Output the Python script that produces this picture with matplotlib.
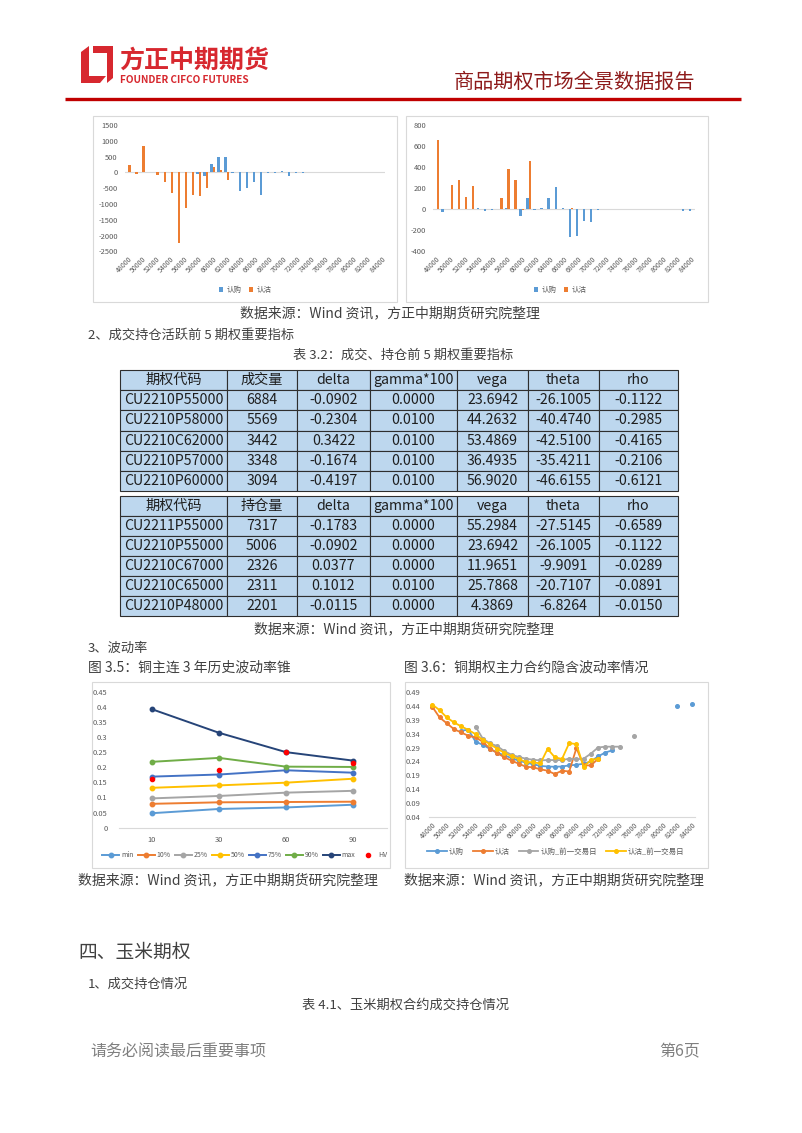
import numpy as np
import matplotlib.pyplot as plt
from matplotlib.patches import Rectangle, Polygon

plt.rcParams['font.family'] = ['Noto Sans CJK SC', 'DejaVu Sans']
plt.rcParams['axes.unicode_minus'] = False

# ---- data ----
strikes = [48000, 49000, 50000, 51000, 52000, 53000, 54000, 55000, 56000, 57000,
           58000, 59000, 60000, 61000, 62000, 63000, 64000, 65000, 66000, 67000,
           68000, 69000, 70000, 71000, 72000, 73000, 74000, 75000, 76000, 77000,
           78000, 79000, 80000, 81000, 82000, 83000, 84000]

# 成交量变化 (left bar chart)
vol_call = [0, 0, 0, 0, 0, 0, 0, 15, 0, 0,
            -60, -100, 280, 480, 480, -30, -580, -480, -310, -720,
            -30, -10, 30, -120, -10, -5, 0, 0, 0, 0,
            0, 0, 0, 0, 0, 0, 0]
vol_put = [240, -40, 850, 0, -80, -290, -640, -2250, -1120, -710,
           -750, -500, 180, 60, -250, 0, 0, 0, 0, 0,
           0, 0, 0, 0, 0, 0, 0, 0, 0, 0,
           0, 0, 0, 0, 0, 0, 0]

# 持仓量变化 (right bar chart)
oi_call = [0, -30, 0, 0, 0, 0, 10, -15, -5, 0,
           10, 0, -60, 105, -10, 10, 105, 210, 10, -260,
           -250, -110, -120, -5, 0, 0, 0, 0, 0, 0,
           0, 0, 0, 0, 0, -15, -15]
oi_put = [655, 0, 232, 280, 114, 225, 0, 0, 0, 108,
          381, 273, -10, 460, 0, 0, 0, 0, 0, 10,
          0, 0, 0, 0, 0, 0, 0, 0, 0, 0,
          0, 0, 0, 0, 0, 0, 0]

# 历史波动率锥
cone_windows = ['10', '30', '60', '90']
cone_min = [0.048, 0.062, 0.067, 0.076]
cone_p10 = [0.079, 0.084, 0.085, 0.086]
cone_p25 = [0.097, 0.105, 0.116, 0.122]
cone_p50 = [0.132, 0.140, 0.149, 0.162]
cone_p75 = [0.169, 0.176, 0.190, 0.182]
cone_p90 = [0.218, 0.231, 0.202, 0.201]
cone_max = [0.392, 0.314, 0.250, 0.222]
cone_hv = [0.160, 0.192, 0.250, 0.215]

# 隐含波动率
N = None
iv_call = [N, N, N, N, 0.350, 0.354, 0.311, 0.300, 0.285, 0.272,
           0.262, 0.252, 0.243, 0.236, 0.230, 0.224, 0.222, 0.221, 0.222, 0.226,
           0.228, 0.232, 0.240, 0.258, 0.272, 0.280, N, N, N, N,
           N, N, N, N, 0.440, N, 0.445]
iv_put = [0.436, 0.398, 0.377, 0.356, 0.344, 0.332, 0.326, 0.311, 0.286, 0.270,
          0.255, 0.243, 0.232, 0.221, 0.219, 0.212, 0.207, 0.195, 0.207, 0.204,
          0.288, 0.226, 0.226, 0.249, N, N, N, N, N, N,
          N, N, N, N, N, N, N]
iv_call_prev = [N, N, N, N, N, N, 0.365, 0.322, 0.305, 0.295,
                0.277, 0.264, 0.256, 0.250, 0.246, 0.244, 0.245, 0.245, 0.245, 0.250,
                0.248, 0.250, 0.268, 0.290, 0.293, 0.293, 0.293, N, 0.333, N,
                N, N, N, N, N, N, N]
iv_put_prev = [0.444, 0.424, 0.398, 0.380, 0.366, 0.353, 0.338, 0.317, 0.302, 0.286,
               0.271, 0.259, 0.249, 0.238, 0.237, 0.233, 0.285, 0.255, 0.249, 0.306,
               0.302, 0.221, 0.245, 0.250, N, N, N, N, N, N,
               N, N, N, N, N, N, N]

# tables
col_names_1 = ['期权代码', '成交量', 'delta', 'gamma*100', 'vega', 'theta', 'rho']
table_1 = [
    ['CU2210P55000', '6884', '-0.0902', '0.0000', '23.6942', '-26.1005', '-0.1122'],
    ['CU2210P58000', '5569', '-0.2304', '0.0100', '44.2632', '-40.4740', '-0.2985'],
    ['CU2210C62000', '3442', '0.3422', '0.0100', '53.4869', '-42.5100', '-0.4165'],
    ['CU2210P57000', '3348', '-0.1674', '0.0100', '36.4935', '-35.4211', '-0.2106'],
    ['CU2210P60000', '3094', '-0.4197', '0.0100', '56.9020', '-46.6155', '-0.6121'],
]
col_names_2 = ['期权代码', '持仓量', 'delta', 'gamma*100', 'vega', 'theta', 'rho']
table_2 = [
    ['CU2211P55000', '7317', '-0.1783', '0.0000', '55.2984', '-27.5145', '-0.6589'],
    ['CU2210P55000', '5006', '-0.0902', '0.0000', '23.6942', '-26.1005', '-0.1122'],
    ['CU2210C67000', '2326', '0.0377', '0.0000', '11.9651', '-9.9091', '-0.0289'],
    ['CU2210C65000', '2311', '0.1012', '0.0100', '25.7868', '-20.7107', '-0.0891'],
    ['CU2210P48000', '2201', '-0.0115', '0.0000', '4.3869', '-6.8264', '-0.0150'],
]

# ---- styles ----
BLUE = '#5B9BD5'
ORANGE = '#ED7D31'
GRAY = '#A5A5A5'
YELLOW = '#FFC000'
BLUE2 = '#4472C4'
GREEN = '#70AD47'
NAVY = '#264478'
TICK = '#595959'
TXT = '#404040'
W, H = 802, 1133

fig = plt.figure(figsize=(W / 100, H / 100), dpi=100)


def box(x0, y0, x1, y1):
    return [x0 / W, 1 - y1 / H, (x1 - x0) / W, (y1 - y0) / H]


def fig_xy(x, y):
    return (x / W, 1 - y / H)


page = fig.add_axes([0, 0, 1, 1])
page.set_xlim(0, W)
page.set_ylim(H, 0)
page.axis('off')

# header
red = '#D7282F'
page.add_patch(Polygon([(81, 52), (89, 46), (89, 76), (81, 83)], color=red, lw=0))
page.add_patch(Polygon([(81, 76), (106, 76), (100, 83), (81, 83)], color=red, lw=0))
page.add_patch(Polygon([(93, 46), (113, 46), (113, 78), (107, 83), (107, 53), (93, 53)], color=red, lw=0))
page.text(119, 61, '方正中期期货', fontsize=18, fontweight='bold', color=red, va='center', ha='left')
page.text(120, 80, 'FOUNDER CIFCO FUTURES', fontsize=7.2, fontweight='bold', color=red, va='center', ha='left')
page.text(695, 82, '商品期权市场全景数据报告', fontsize=14.5, color='#8E1B1B', va='center', ha='right')
page.plot([65, 741], [99, 99], color='#C00000', lw=2.4, solid_capstyle='butt')

# chart frames
for x0, y0, x1, y1 in [(93, 116, 397, 302), (406, 116, 708, 302), (92, 682, 390, 868), (405, 682, 708, 868)]:
    page.add_patch(Rectangle((x0, y0), x1 - x0, y1 - y0, fill=False, ec='#D9D9D9', lw=0.8))

src = '数据来源：Wind 资讯，方正中期期货研究院整理'
page.text(390, 313, src, fontsize=10, color=TXT, ha='center', va='center')
page.text(88, 335, '2、成交持仓活跃前 5 期权重要指标', fontsize=9.5, color=TXT, ha='left', va='center')
page.text(403, 355, '表 3.2：成交、持仓前 5 期权重要指标', fontsize=9.5, color=TXT, ha='center', va='center')
page.text(404, 629, src, fontsize=10, color=TXT, ha='center', va='center')
page.text(88, 648, '3、波动率', fontsize=9.5, color=TXT, ha='left', va='center')
page.text(88, 668, '图 3.5：铜主连 3 年历史波动率锥', fontsize=10, color=TXT, ha='left', va='center')
page.text(404, 668, '图 3.6：铜期权主力合约隐含波动率情况', fontsize=10, color=TXT, ha='left', va='center')
page.text(78, 880, src, fontsize=10, color=TXT, ha='left', va='center')
page.text(404, 880, src, fontsize=10, color=TXT, ha='left', va='center')
page.text(78, 952, '四、玉米期权', fontsize=13.5, color=TXT, ha='left', va='center')
page.text(88, 984, '1、成交持仓情况', fontsize=9.5, color=TXT, ha='left', va='center')
page.text(406, 1005, '表 4.1、玉米期权合约成交持仓情况', fontsize=9.5, color=TXT, ha='center', va='center')
page.text(90, 1052, '请务必阅读最后重要事项', fontsize=11.5, color='#7F7F7F', ha='left', va='center')
page.text(700, 1052, '第6页', fontsize=11.5, color='#7F7F7F', ha='right', va='center')


def style_axes(ax):
    for s in ax.spines.values():
        s.set_visible(False)
    ax.tick_params(length=0, labelsize=5.4, labelcolor=TICK, pad=3)


# ---- bar charts ----
def bar_chart(rect, call, put, ylim, yticks, leg_xy):
    ax = fig.add_axes(box(*rect))
    idx = np.arange(len(strikes))
    ax.bar(idx - 0.17, call, width=0.34, color=BLUE, label='认购', zorder=2)
    ax.bar(idx + 0.17, put, width=0.34, color=ORANGE, label='认沽', zorder=2)
    ax.axhline(0, color='#D9D9D9', lw=0.8, zorder=1)
    ax.set_xlim(-0.5, len(strikes) - 0.5)
    ax.set_ylim(*ylim)
    ax.set_yticks(yticks)
    ax.set_yticklabels([str(v) for v in yticks])
    ax.set_xticks(idx[::2])
    ax.set_xticklabels([str(s) for s in strikes[::2]], rotation=45, ha='right', va='top',
                       rotation_mode='anchor')
    style_axes(ax)
    ax.tick_params(axis='x', labelsize=5.0)
    ax.tick_params(axis='y', pad=5)
    ax.legend(loc='center', bbox_to_anchor=fig_xy(*leg_xy), bbox_transform=fig.transFigure,
              ncol=2, frameon=False, fontsize=5.4, handlelength=0.6, handleheight=0.6,
              handletextpad=0.4, columnspacing=1.0, labelcolor=TICK)
    return ax


bar_chart((124.8, 125, 385.2, 251.3), vol_call, vol_put, (-2500, 1500),
          [1500, 1000, 500, 0, -500, -1000, -1500, -2000, -2500], (245, 290))
bar_chart((433, 125, 695, 251.3), oi_call, oi_put, (-400, 800),
          [800, 600, 400, 200, 0, -200, -400], (560, 290))

# ---- volatility cone ----
ax3 = fig.add_axes(box(118.5, 691.7, 386.5, 827.7))
xc = np.arange(len(cone_windows))
for name, vals, c in [('min', cone_min, BLUE), ('10%', cone_p10, ORANGE), ('25%', cone_p25, GRAY),
                      ('50%', cone_p50, YELLOW), ('75%', cone_p75, BLUE2), ('90%', cone_p90, GREEN),
                      ('max', cone_max, NAVY)]:
    ax3.plot(xc, vals, color=c, lw=1.4, marker='o', ms=3.2, label=name)
ax3.plot(xc, cone_hv, ls='none', marker='o', ms=3.0, color='#FF0000', label='HV')
ax3.set_xlim(-0.5, len(cone_windows) - 0.5)
ax3.set_ylim(0, 0.45)
yt = np.round(np.arange(0, 0.451, 0.05), 2)
ax3.set_yticks(yt)
ax3.set_yticklabels([f'{v:g}' for v in yt])
ax3.set_xticks(xc)
ax3.set_xticklabels(cone_windows)
style_axes(ax3)
ax3.tick_params(axis='y', pad=8)
ax3.tick_params(axis='x', pad=6)
ax3.spines['bottom'].set_visible(True)
ax3.spines['bottom'].set_color('#D9D9D9')
ax3.spines['bottom'].set_linewidth(0.8)
ax3.legend(loc='center', bbox_to_anchor=fig_xy(245, 855), bbox_transform=fig.transFigure,
           ncol=8, frameon=False, fontsize=5.0, handlelength=2.4, handletextpad=0.3,
           columnspacing=0.6, labelcolor=TICK)

# ---- implied vol ----
ax4 = fig.add_axes(box(428.7, 691.7, 695.3, 817.3))
xi = np.arange(len(strikes))
for name, vals, c in [('认购', iv_call, BLUE), ('认沽', iv_put, ORANGE),
                      ('认购_前一交易日', iv_call_prev, GRAY), ('认沽_前一交易日', iv_put_prev, YELLOW)]:
    ax4.plot(xi, np.array(vals, dtype=float), color=c, lw=1.3, marker='o', ms=2.6, label=name)
ax4.set_xlim(-0.5, len(strikes) - 0.5)
ax4.set_ylim(0.04, 0.49)
yt4 = np.round(np.arange(0.04, 0.491, 0.05), 2)
ax4.set_yticks(yt4)
ax4.set_yticklabels([f'{v:.2f}' for v in yt4])
ax4.set_xticks(xi[::2])
ax4.set_xticklabels([str(s) for s in strikes[::2]], rotation=45, ha='right', va='top',
                    rotation_mode='anchor')
style_axes(ax4)
ax4.tick_params(axis='x', labelsize=5.0)
ax4.tick_params(axis='y', pad=6)
ax4.spines['bottom'].set_visible(True)
ax4.spines['bottom'].set_color('#D9D9D9')
ax4.spines['bottom'].set_linewidth(0.8)
ax4.legend(loc='center', bbox_to_anchor=fig_xy(556, 852), bbox_transform=fig.transFigure,
           ncol=4, frameon=False, fontsize=5.4, handlelength=2.6, handletextpad=0.3,
           columnspacing=1.2, labelcolor=TICK)

# ---- tables ----
col_edges = [120, 227, 297, 370, 457, 528, 599, 678]
col_w = np.diff(col_edges) / (col_edges[-1] - col_edges[0])


def draw_table(y0, y1, header, rows):
    ax = fig.add_axes(box(col_edges[0], y0, col_edges[-1], y1))
    ax.axis('off')
    tb = ax.table(cellText=rows, colLabels=header, colWidths=list(col_w), cellLoc='center',
                  bbox=[0, 0, 1, 1])
    tb.auto_set_font_size(False)
    tb.set_fontsize(10.2)
    for cell in tb.get_celld().values():
        cell.set_facecolor('#BDD7EE')
        cell.set_edgecolor('#2E2E2E')
        cell.set_linewidth(0.8)
        cell.get_text().set_color('#1E1E1E')
    return tb


draw_table(370, 491, col_names_1, table_1)
draw_table(496, 616, col_names_2, table_2)

fig.savefig('out.png', dpi=100)
